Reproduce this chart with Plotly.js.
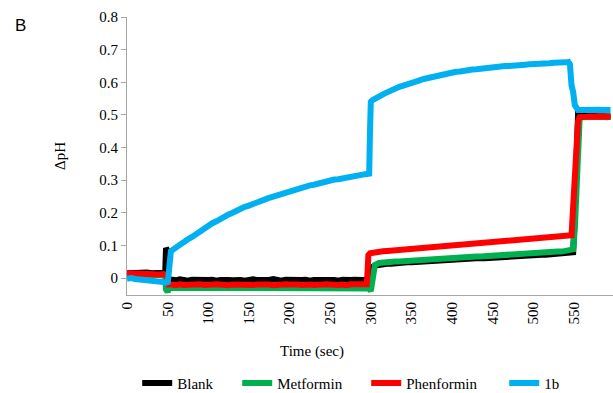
<!DOCTYPE html>
<html>
<head>
<meta charset="utf-8">
<script src="https://cdn.plot.ly/plotly-3.0.1.min.js"></script>
<style>html,body{margin:0;padding:0;background:#fff;}#chart{width:613px;height:393px;}</style>
</head>
<body>
<div id="chart"></div>
<script>
// Series names
const seriesNames = ["Blank", "Metformin", "Phenformin", "1b"];
const seriesColors = ["#000000", "#00b050", "#ff0000", "#00b0f0"];

// x tick values
const xTicks = [0, 50, 100, 150, 200, 250, 300, 350, 400, 450, 500, 550];
const yTicks = [0, 0.1, 0.2, 0.3, 0.4, 0.5, 0.6, 0.7, 0.8];
const yTickLabels = ["0", "0.1", "0.2", "0.3", "0.4", "0.5", "0.6", "0.7", "0.8"];

// ---- Blank ----
const blankTime = [0,5,10,15,20,25,30,35,40,45,47,48,49,50,51,53,
55,60,65,70,75,80,85,90,95,100,105,110,115,120,125,130,135,140,145,150,155,160,165,170,175,180,185,190,195,200,205,210,215,220,225,230,235,240,245,250,255,260,265,270,275,280,285,290,295,
298,299,300,302,305,
310,315,320,325,330,335,340,345,350,355,360,365,370,375,380,385,390,395,400,405,410,415,420,425,430,435,440,445,450,455,460,465,470,475,480,485,490,495,500,505,510,515,520,525,530,535,540,545,
547,549,551,553,555,560,565,570,575,580,585,590,595];
const blankPH = [0.015,0.016,0.014,0.016,0.015,0.017,0.015,0.016,0.014,0.016,0.016,0.092,0.088,0.030,-0.008,-0.004,
-0.005,-0.007,-0.004,-0.006,-0.008,-0.005,-0.006,-0.004,-0.007,-0.006,
-0.005,-0.008,-0.006,-0.004,-0.006,-0.007,-0.005,-0.006,-0.008,-0.005,
-0.004,-0.006,-0.007,-0.005,-0.006,-0.003,-0.006,-0.008,-0.005,-0.006,
-0.004,-0.007,-0.006,-0.005,-0.008,-0.006,-0.005,-0.007,-0.004,-0.006,
-0.006,-0.008,-0.005,-0.007,-0.006,-0.005,-0.007,-0.006,-0.006,
-0.007,0.005,0.028,0.034,0.038,
0.041,0.043,0.044,0.044,0.046,0.046,0.047,0.048,0.048,0.049,
0.050,0.050,0.052,0.052,0.053,0.054,0.054,0.055,0.056,0.056,
0.057,0.058,0.058,0.059,0.060,0.061,0.061,0.062,0.063,0.063,
0.064,0.065,0.065,0.066,0.067,0.067,0.068,0.069,0.069,0.070,
0.071,0.071,0.072,0.073,0.074,0.074,0.075,0.077,
0.078,0.079,0.200,0.420,0.502,0.500,0.498,0.497,0.497,0.496,0.496,0.495,0.495];

// ---- Metformin ----
const metTime = [0,5,10,15,20,25,30,35,40,45,47,48,50,52,
55,60,65,70,75,80,85,90,95,100,105,110,115,120,125,130,135,140,145,150,155,160,165,170,175,180,185,190,195,200,205,210,215,220,225,230,235,240,245,250,255,260,265,270,275,280,285,290,295,
298,300,301,303,305,
310,315,320,325,330,335,340,345,350,355,360,365,370,375,380,385,390,395,400,405,410,415,420,425,430,435,440,445,450,455,460,465,470,475,480,485,490,495,500,505,510,515,520,525,530,535,540,545,
547,549,551,553,555,557,560,565,570,575,580,585,590,595];
const metPH = [0.010,0.011,0.009,0.010,0.011,0.009,0.010,0.010,0.009,0.008,0.007,-0.035,-0.042,-0.030,
-0.030,-0.031,-0.029,-0.032,-0.030,-0.031,-0.029,-0.030,-0.032,-0.031,
-0.030,-0.029,-0.031,-0.030,-0.032,-0.030,-0.031,-0.029,-0.030,-0.031,
-0.032,-0.030,-0.029,-0.031,-0.030,-0.031,-0.032,-0.030,-0.029,-0.031,
-0.030,-0.031,-0.029,-0.030,-0.032,-0.031,-0.030,-0.029,-0.031,-0.030,
-0.031,-0.030,-0.032,-0.029,-0.030,-0.031,-0.030,-0.031,-0.030,
-0.032,-0.040,-0.020,0.030,0.040,
0.046,0.048,0.049,0.050,0.051,0.051,0.052,0.053,0.054,0.054,
0.055,0.056,0.057,0.057,0.058,0.059,0.060,0.060,0.061,0.062,
0.063,0.063,0.064,0.065,0.066,0.066,0.067,0.068,0.069,0.069,
0.070,0.071,0.072,0.072,0.073,0.074,0.075,0.075,0.076,0.077,
0.078,0.078,0.079,0.080,0.081,0.081,0.082,0.084,
0.086,0.088,0.150,0.300,0.440,0.490,0.493,0.494,0.493,0.494,0.493,0.494,0.493,0.494];

// ---- Phenformin ----
const phenTime = [0,5,10,15,20,25,30,35,40,45,47,49,51,53,
55,60,65,70,75,80,85,90,95,100,105,110,115,120,125,130,135,140,145,150,155,160,165,170,175,180,185,190,195,200,205,210,215,220,225,230,235,240,245,250,255,260,265,270,275,280,285,290,
293,295,296,297,299,302,305,
310,315,320,325,330,335,340,345,350,355,360,365,370,375,380,385,390,395,400,405,410,415,420,425,430,435,440,445,450,455,460,465,470,475,480,485,490,495,500,505,510,515,520,525,530,535,540,545,
547,549,551,553,555,557,560,565,570,575,580,585,590,595];
const phenPH = [0.015,0.014,0.015,0.013,0.014,0.012,0.013,0.012,0.011,0.012,0.011,0.008,-0.020,-0.022,
-0.020,-0.022,-0.019,-0.021,-0.020,-0.023,-0.020,-0.019,-0.021,-0.022,
-0.020,-0.019,-0.021,-0.020,-0.022,-0.020,-0.021,-0.019,-0.020,-0.022,
-0.021,-0.020,-0.019,-0.021,-0.020,-0.022,-0.020,-0.021,-0.019,-0.020,
-0.022,-0.020,-0.021,-0.019,-0.020,-0.021,-0.022,-0.020,-0.019,-0.021,
-0.020,-0.021,-0.020,-0.022,-0.019,-0.020,-0.021,-0.020,
-0.020,-0.019,0.020,0.070,0.076,0.078,0.080,
0.081,0.082,0.083,0.084,0.085,0.086,0.087,0.088,0.089,0.090,
0.091,0.092,0.094,0.094,0.096,0.097,0.098,0.099,0.100,0.101,
0.102,0.103,0.104,0.105,0.106,0.107,0.108,0.109,0.110,0.111,
0.112,0.113,0.114,0.115,0.116,0.117,0.118,0.119,0.120,0.121,
0.122,0.123,0.124,0.125,0.126,0.127,0.128,0.130,
0.131,0.220,0.330,0.420,0.480,0.493,0.495,0.494,0.495,0.494,0.495,0.494,0.495,0.494];

// ---- 1b ----
const c1bTime = [0,5,10,15,20,25,30,35,40,45,48,50,51,52,54,57,
60,65,70,75,80,85,90,95,100,105,110,115,120,125,130,135,140,145,150,155,160,165,170,175,180,185,190,195,200,205,210,215,220,225,230,235,240,245,250,255,260,265,270,275,280,285,290,295,
298,299,300,302,305,
310,315,320,325,330,335,340,345,350,355,360,365,370,375,380,385,390,395,400,405,410,415,420,425,430,435,440,445,450,455,460,465,470,475,480,485,490,495,500,505,510,515,520,525,530,535,540,
543,545,547,549,551,553,555,560,565,570,575,580,585,590,595];
const c1bPH = [-0.002,0.000,-0.003,-0.004,-0.003,-0.006,-0.007,-0.008,-0.010,-0.012,-0.013,-0.018,0.020,0.070,0.082,0.088,
0.094,0.103,0.110,0.119,0.126,0.135,0.145,0.152,0.160,0.168,
0.174,0.182,0.188,0.195,0.200,0.207,0.212,0.218,0.222,0.228,
0.233,0.236,0.241,0.246,0.250,0.255,0.258,0.263,0.266,0.270,
0.273,0.277,0.280,0.284,0.286,0.290,0.292,0.296,0.298,0.302,
0.303,0.306,0.308,0.311,0.312,0.315,0.317,0.319,
0.320,0.450,0.540,0.545,0.550,
0.556,0.563,0.569,0.576,0.580,0.586,0.590,0.595,0.598,0.603,
0.606,0.610,0.613,0.617,0.619,0.623,0.624,0.628,0.629,0.632,
0.633,0.636,0.637,0.639,0.640,0.642,0.643,0.645,0.645,0.647,
0.648,0.650,0.650,0.652,0.652,0.654,0.654,0.655,0.655,0.657,
0.657,0.658,0.658,0.660,0.659,0.661,0.661,
0.662,0.655,0.590,0.570,0.530,0.516,0.515,0.515,0.516,0.514,0.515,0.516,0.515,0.514,0.515];

const serif = "'Liberation Serif', 'Times New Roman', serif";
const sans = "'Liberation Sans', Arial, sans-serif";
const timeArrays = [blankTime, metTime, phenTime, c1bTime];
const phArrays = [blankPH, metPH, phenPH, c1bPH];
const legendWidths = [55, 84, 93, 40];

const traces = seriesNames.map((name, i) => ({
  type: "scatter",
  mode: "lines",
  name: name,
  x: timeArrays[i],
  y: phArrays[i],
  legendwidth: legendWidths[i],
  line: {color: seriesColors[i], width: 6}
}));

const layout = {
  width: 613,
  height: 393,
  margin: {l: 127, r: 0, t: 17, b: 98},
  paper_bgcolor: "#ffffff",
  plot_bgcolor: "#ffffff",
  font: {family: serif, size: 15, color: "#000000"},
  showlegend: true,
  legend: {
    orientation: "h",
    xref: "paper",
    x: 0.021, xanchor: "left",
    yref: "container",
    y: 0.025, yanchor: "middle",
    font: {family: serif, size: 15, color: "#000000"},
    itemwidth: 30,
    bgcolor: "rgba(0,0,0,0)"
  },
  xaxis: {
    range: [0, 598],
    tickvals: xTicks,
    ticktext: xTicks.map(String),
    tickangle: -90,
    showgrid: false,
    zeroline: false,
    showline: true,
    linecolor: "#a6a6a6",
    linewidth: 1,
    ticks: "",
    tickfont: {family: serif, size: 15, color: "#000000"}
  },
  yaxis: {
    range: [-0.052, 0.8],
    tickvals: yTicks,
    ticktext: yTickLabels,
    showgrid: false,
    zeroline: false,
    showline: true,
    linecolor: "#a6a6a6",
    linewidth: 1,
    ticks: "outside",
    ticklen: 5,
    tickcolor: "#a6a6a6",
    tickfont: {family: serif, size: 15, color: "#000000"},
    title: {text: "ΔpH", font: {family: serif, size: 15, color: "#000000"}, standoff: 30}
  },
  annotations: [
    {text: "Time (sec)", xref: "paper", yref: "paper", x: 0.381, y: -0.205,
     xanchor: "center", yanchor: "middle", showarrow: false,
     font: {family: serif, size: 15, color: "#000000"}},
    {text: "B", xref: "paper", yref: "paper", x: -0.22, y: 0.971,
     xanchor: "center", yanchor: "middle", showarrow: false,
     font: {family: sans, size: 17, color: "#000000"}}
  ]
};

Plotly.newPlot("chart", traces, layout, {displayModeBar: false, staticPlot: true});
</script>
</body>
</html>
